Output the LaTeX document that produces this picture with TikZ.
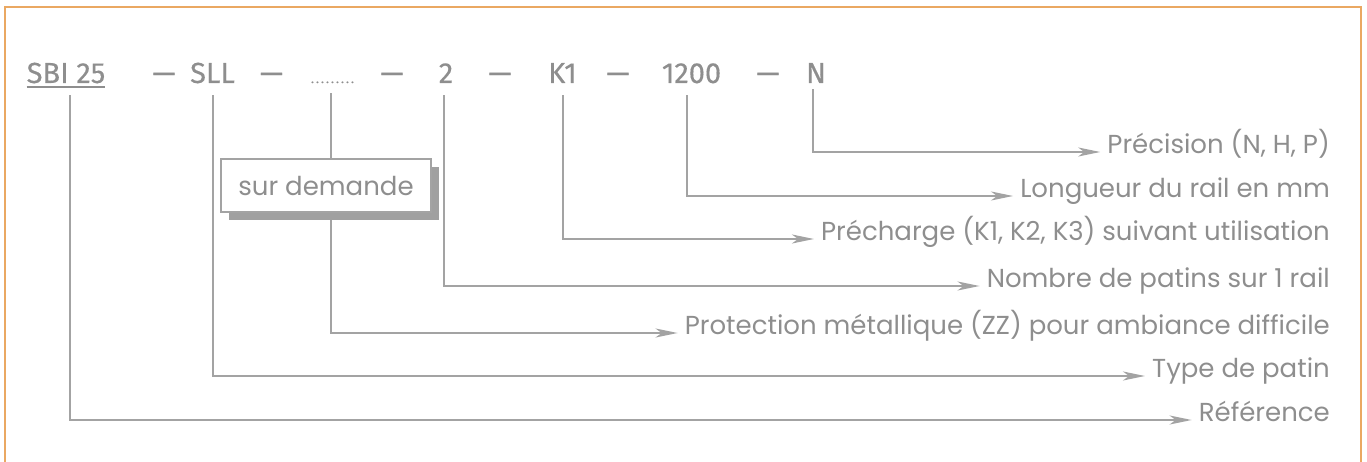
\documentclass[tikz,border=0pt]{standalone}
\usepackage{fontspec}
\setmainfont{Poppins}
\newfontfamily\codefont[FakeBold=0.4]{Fira Sans}
\usetikzlibrary{arrows.meta,shadows}
\definecolor{txt}{HTML}{8E8E8E}
\definecolor{ln}{HTML}{A3A3A3}
\definecolor{frame}{HTML}{EAA862}
\definecolor{shad}{HTML}{A0A0A0}
\begin{document}
\begin{tikzpicture}[x=1pt,y=-1pt,
  code/.style={font=\codefont\fontsize{29}{29}\selectfont, text=txt, inner sep=0pt, anchor=base, text depth=12pt},
  lab/.style={font=\fontsize{26}{26}\selectfont, text=txt, anchor=east, inner xsep=7pt, inner ysep=0pt, text height=0.7em, text depth=0.4em},
  conn/.style={draw=ln, line width=2pt, -{Stealth[length=22pt,width=9pt,inset=6pt]}},
  boxstyle/.style={draw=ln, line width=1.5pt, fill=white, minimum width=210pt, minimum height=53pt,
     font=\fontsize{26}{26}\selectfont, text=txt,
     drop shadow={shadow xshift=8pt, shadow yshift=-8pt, fill=shad, opacity=1}}
]
\useasboundingbox (0,0) rectangle (1367,462);
\draw[frame, line width=2.5pt] (5,7) rectangle (1361,475);

% code row
\node[code] (cSBI) at (66,83) {SBI 25};
\node[code] (d1) at (164,83) {—};
\node[code] (cSLL) at (212.5,83) {SLL};
\node[code] (d2) at (271.5,83) {—};
\node[code, text depth=10pt] (cD) at (332.5,83) {\makebox[45pt]{\fontsize{12}{12}\selectfont\leaders\hbox to 5pt{\hss.\hss}\hfill}};
\node[code] (d3) at (392,83) {—};
\node[code] (c2) at (446,83) {2};
\node[code] (d4) at (500,83) {—};
\node[code] (cK) at (562.5,83) {K1};
\node[code] (d5) at (618,83) {—};
\node[code] (c12) at (691.5,83) {1200};
\node[code] (d6) at (768,83) {—};
\node[code, text depth=6pt] (cN) at (816,83) {N};
\draw[txt, line width=2pt] ([yshift=-4pt]cSBI.base west) -- ([yshift=-4pt]cSBI.base east);

% labels
\node[lab] (lN) at (1337,152) {Précision (N, H, P)};
\node[lab] (l12) at (1337,196) {Longueur du rail en mm};
\node[lab] (lK) at (1337,239) {Précharge (K1, K2, K3) suivant utilisation};
\node[lab] (l2) at (1337,286) {Nombre de patins sur 1 rail};
\node[lab] (lD) at (1337,333) {Protection métallique (ZZ) pour ambiance difficile};
\node[lab] (lSLL) at (1337,376) {Type de patin};
\node[lab] (lSBI) at (1337,420) {Référence};

% connectors
\draw[conn] ([xshift=-3pt]cN.south) |- (lN.west);
\draw[conn] ([xshift=-5pt]c12.south) |- (l12.west);
\draw[conn] (cK.south) |- (lK.west);
\draw[conn] ([xshift=-2pt]c2.south) |- (l2.west);
\draw[conn] ([xshift=-1.5pt]cD.south) |- (lD.west);
\draw[conn] (cSLL.south) |- (lSLL.west);
\draw[conn] ([xshift=4pt]cSBI.south) |- (lSBI.west);

% box
\node[boxstyle] (box) at (326,185.5) {sur demande};
\end{tikzpicture}
\end{document}
